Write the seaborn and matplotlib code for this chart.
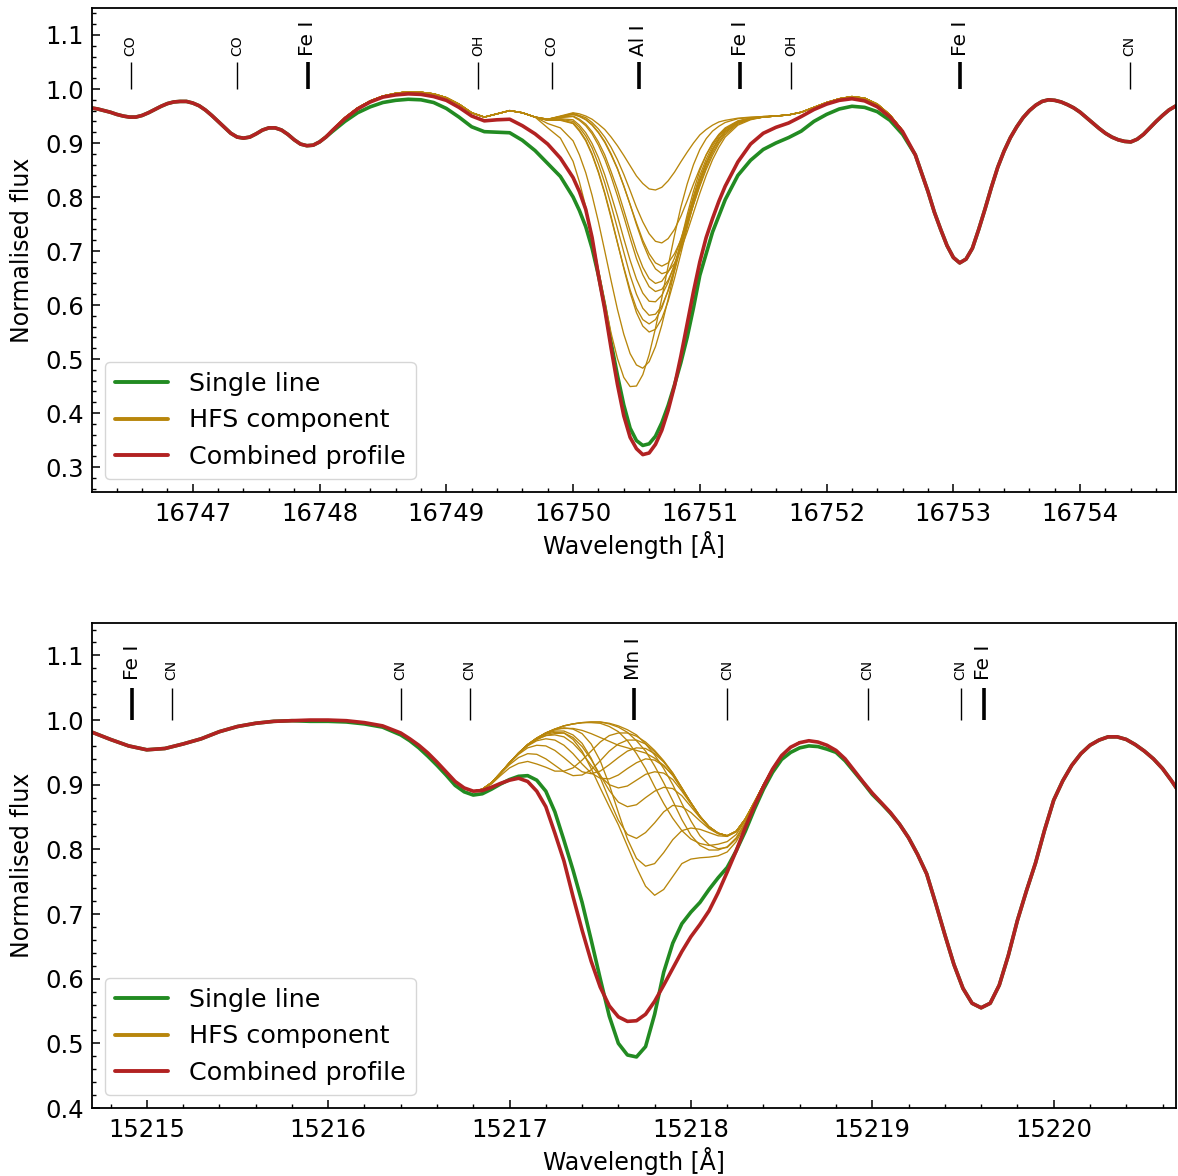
import matplotlib
matplotlib.use("Agg")
import matplotlib.pyplot as plt
from matplotlib.lines import Line2D
from matplotlib.ticker import MultipleLocator, FormatStrFormatter
import seaborn as sns

# ---------------- Al I 16750 region ----------------
top_wave = [16746.2, 16746.25, 16746.3, 16746.35, 16746.4, 16746.45, 16746.5, 16746.55, 16746.6, 16746.65,
            16746.7, 16746.75, 16746.8, 16746.85, 16746.9, 16746.95, 16747.0, 16747.05, 16747.1, 16747.15,
            16747.2, 16747.25, 16747.3, 16747.35, 16747.4, 16747.45, 16747.5, 16747.55, 16747.6, 16747.65,
            16747.7, 16747.75, 16747.8, 16747.85, 16747.9, 16747.95, 16748.0, 16748.05, 16748.1,
            16748.2, 16748.3, 16748.4, 16748.5, 16748.6, 16748.7, 16748.8, 16748.9, 16749.0, 16749.1,
            16749.2, 16749.3, 16749.4, 16749.5, 16749.6, 16749.7, 16749.8, 16749.9, 16750.0, 16750.05,
            16750.1, 16750.15, 16750.2, 16750.25, 16750.3, 16750.35, 16750.4, 16750.45, 16750.5, 16750.55,
            16750.6, 16750.65, 16750.7, 16750.75, 16750.8, 16750.85, 16750.9, 16750.95, 16751.0, 16751.05,
            16751.1, 16751.15, 16751.2, 16751.3, 16751.4, 16751.5, 16751.6, 16751.7, 16751.8, 16751.9,
            16752.0, 16752.1, 16752.2, 16752.3, 16752.4, 16752.5, 16752.6, 16752.7, 16752.8, 16752.85,
            16752.9, 16752.95, 16753.0, 16753.05, 16753.1, 16753.15, 16753.2, 16753.25, 16753.3, 16753.35,
            16753.4, 16753.45, 16753.5, 16753.55, 16753.6, 16753.65, 16753.7, 16753.75, 16753.8, 16753.85,
            16753.9, 16753.95, 16754.0, 16754.05, 16754.1, 16754.15, 16754.2, 16754.25, 16754.3, 16754.35,
            16754.4, 16754.45, 16754.5, 16754.55, 16754.6, 16754.65, 16754.7, 16754.75, 16754.8]

top_single = [0.965, 0.963, 0.960, 0.957, 0.953, 0.950, 0.948, 0.948, 0.951, 0.956,
              0.962, 0.968, 0.973, 0.976, 0.977, 0.977, 0.974, 0.969, 0.961, 0.951,
              0.940, 0.929, 0.918, 0.911, 0.909, 0.911, 0.917, 0.924, 0.928, 0.928,
              0.924, 0.916, 0.906, 0.898, 0.895, 0.896, 0.902, 0.911, 0.921,
              0.940, 0.956, 0.967, 0.975, 0.979, 0.981, 0.980, 0.975, 0.964, 0.948,
              0.930, 0.921, 0.920, 0.919, 0.905, 0.886, 0.862, 0.838, 0.800, 0.775,
              0.745, 0.705, 0.655, 0.598, 0.530, 0.470, 0.415, 0.372, 0.349, 0.340,
              0.343, 0.357, 0.382, 0.414, 0.452, 0.493, 0.540, 0.595, 0.655, 0.695,
              0.735, 0.765, 0.795, 0.840, 0.868, 0.888, 0.900, 0.910, 0.922, 0.940,
              0.953, 0.963, 0.968, 0.966, 0.958, 0.942, 0.916, 0.878, 0.810, 0.772,
              0.740, 0.710, 0.688, 0.678, 0.685, 0.705, 0.740, 0.778, 0.818, 0.855,
              0.885, 0.910, 0.930, 0.947, 0.960, 0.970, 0.977, 0.980, 0.979, 0.976,
              0.971, 0.965, 0.957, 0.947, 0.937, 0.927, 0.918, 0.911, 0.906, 0.903,
              0.902, 0.907, 0.916, 0.928, 0.940, 0.951, 0.961, 0.968, 0.973]

top_combined = [0.965, 0.963, 0.960, 0.957, 0.953, 0.950, 0.948, 0.948, 0.951, 0.956,
                0.962, 0.968, 0.973, 0.976, 0.977, 0.977, 0.974, 0.969, 0.961, 0.951,
                0.940, 0.929, 0.918, 0.911, 0.909, 0.911, 0.917, 0.924, 0.928, 0.928,
                0.924, 0.916, 0.906, 0.898, 0.895, 0.896, 0.902, 0.911, 0.923,
                0.945, 0.963, 0.976, 0.985, 0.989, 0.991, 0.990, 0.986, 0.979, 0.966,
                0.950, 0.941, 0.943, 0.944, 0.932, 0.917, 0.898, 0.872, 0.836, 0.810,
                0.777, 0.725, 0.655, 0.592, 0.520, 0.453, 0.395, 0.355, 0.334, 0.323,
                0.326, 0.342, 0.368, 0.405, 0.450, 0.505, 0.565, 0.625, 0.680, 0.725,
                0.760, 0.792, 0.820, 0.865, 0.898, 0.918, 0.929, 0.937, 0.949, 0.962,
                0.972, 0.979, 0.982, 0.978, 0.967, 0.948, 0.921, 0.878, 0.810, 0.772,
                0.740, 0.710, 0.688, 0.678, 0.685, 0.705, 0.740, 0.778, 0.818, 0.855,
                0.885, 0.910, 0.930, 0.947, 0.960, 0.970, 0.977, 0.980, 0.979, 0.976,
                0.971, 0.965, 0.957, 0.947, 0.937, 0.927, 0.918, 0.911, 0.906, 0.903,
                0.902, 0.907, 0.916, 0.928, 0.940, 0.951, 0.961, 0.968, 0.973]

top_hfs_wave = [16748.0, 16748.1, 16748.2, 16748.3, 16748.4, 16748.5, 16748.6, 16748.7, 16748.8, 16748.9,
                16749.0, 16749.1, 16749.2, 16749.3, 16749.4, 16749.5, 16749.6, 16749.7,
                16749.8, 16749.9, 16750.0, 16750.05, 16750.1, 16750.15, 16750.2, 16750.25, 16750.3, 16750.35,
                16750.4, 16750.45, 16750.5, 16750.55, 16750.6, 16750.65, 16750.7, 16750.75, 16750.8, 16750.85,
                16750.9, 16750.95, 16751.0, 16751.05, 16751.1, 16751.15, 16751.2, 16751.3, 16751.4, 16751.5,
                16751.6, 16751.7, 16751.8, 16751.9, 16752.0, 16752.1, 16752.2, 16752.3, 16752.4, 16752.5, 16752.6]
# blue and red sides shared by all Al I components
al_hfs_blue = [0.902, 0.924, 0.947, 0.965, 0.978, 0.987, 0.992, 0.995, 0.994, 0.991,
               0.984, 0.972, 0.956, 0.948, 0.954, 0.960, 0.956, 0.948]
al_hfs_red = [0.950, 0.952, 0.957, 0.966, 0.975, 0.982, 0.986, 0.983, 0.972, 0.952, 0.923]
# line cores, 16749.8 - 16751.5
al_hfs_01 = [0.944, 0.950, 0.956, 0.954, 0.950, 0.944, 0.935, 0.925, 0.911, 0.895, 0.877, 0.858, 0.839, 0.825, 0.815,
             0.813, 0.818, 0.830, 0.846, 0.865, 0.883, 0.900, 0.915, 0.925, 0.933, 0.939, 0.942, 0.946, 0.948, 0.949]
al_hfs_02 = [0.944, 0.949, 0.955, 0.951, 0.947, 0.938, 0.926, 0.911, 0.892, 0.869, 0.842, 0.812, 0.781, 0.754, 0.732,
             0.718, 0.715, 0.723, 0.740, 0.764, 0.793, 0.824, 0.853, 0.878, 0.898, 0.915, 0.926, 0.940, 0.946, 0.949]
al_hfs_03 = [0.944, 0.949, 0.953, 0.949, 0.943, 0.933, 0.919, 0.901, 0.878, 0.852, 0.820, 0.786, 0.752, 0.720, 0.695,
             0.678, 0.672, 0.678, 0.695, 0.720, 0.752, 0.786, 0.820, 0.851, 0.877, 0.899, 0.915, 0.935, 0.944, 0.948]
al_hfs_04 = [0.944, 0.949, 0.953, 0.950, 0.944, 0.934, 0.920, 0.903, 0.880, 0.853, 0.821, 0.786, 0.749, 0.715, 0.687,
             0.667, 0.658, 0.662, 0.677, 0.703, 0.735, 0.771, 0.807, 0.840, 0.869, 0.892, 0.911, 0.933, 0.943, 0.948]
al_hfs_05 = [0.944, 0.948, 0.950, 0.944, 0.935, 0.921, 0.902, 0.878, 0.847, 0.814, 0.776, 0.737, 0.700, 0.670, 0.649,
             0.640, 0.644, 0.661, 0.687, 0.722, 0.759, 0.798, 0.833, 0.864, 0.888, 0.908, 0.922, 0.938, 0.945, 0.948]
al_hfs_06 = [0.943, 0.947, 0.949, 0.942, 0.932, 0.917, 0.896, 0.870, 0.838, 0.802, 0.764, 0.724, 0.686, 0.656, 0.634,
             0.625, 0.629, 0.646, 0.673, 0.708, 0.747, 0.786, 0.823, 0.855, 0.882, 0.902, 0.918, 0.937, 0.945, 0.948]
al_hfs_07 = [0.943, 0.945, 0.943, 0.933, 0.919, 0.899, 0.873, 0.841, 0.804, 0.765, 0.723, 0.683, 0.648, 0.622, 0.607,
             0.606, 0.618, 0.642, 0.675, 0.714, 0.755, 0.795, 0.832, 0.862, 0.887, 0.907, 0.921, 0.938, 0.945, 0.948]
al_hfs_08 = [0.942, 0.944, 0.940, 0.929, 0.913, 0.891, 0.861, 0.826, 0.785, 0.742, 0.698, 0.655, 0.620, 0.594, 0.581,
             0.583, 0.598, 0.626, 0.663, 0.706, 0.750, 0.792, 0.830, 0.862, 0.888, 0.907, 0.921, 0.938, 0.945, 0.948]
al_hfs_09 = [0.942, 0.942, 0.936, 0.922, 0.904, 0.878, 0.845, 0.806, 0.761, 0.715, 0.670, 0.628, 0.594, 0.573, 0.565,
             0.573, 0.594, 0.628, 0.669, 0.714, 0.759, 0.802, 0.840, 0.870, 0.894, 0.912, 0.925, 0.940, 0.946, 0.948]
al_hfs_10 = [0.942, 0.943, 0.937, 0.924, 0.906, 0.880, 0.847, 0.808, 0.764, 0.716, 0.668, 0.623, 0.586, 0.561, 0.550,
             0.555, 0.575, 0.607, 0.649, 0.695, 0.743, 0.788, 0.828, 0.861, 0.888, 0.907, 0.922, 0.938, 0.945, 0.948]
al_hfs_11 = [0.936, 0.928, 0.904, 0.878, 0.845, 0.803, 0.754, 0.700, 0.645, 0.592, 0.546, 0.510, 0.489, 0.483, 0.495,
             0.523, 0.563, 0.611, 0.664, 0.718, 0.767, 0.811, 0.849, 0.878, 0.900, 0.916, 0.928, 0.941, 0.946, 0.948]
al_hfs_12 = [0.928, 0.909, 0.866, 0.828, 0.782, 0.727, 0.666, 0.606, 0.548, 0.501, 0.466, 0.449, 0.450, 0.471, 0.508,
             0.557, 0.613, 0.672, 0.729, 0.781, 0.824, 0.860, 0.888, 0.908, 0.922, 0.931, 0.938, 0.945, 0.947, 0.949]

top_line_waves = [16746.51, 16747.35, 16747.905, 16749.25, 16749.83, 16750.52, 16751.32, 16751.72, 16753.055, 16754.39]
top_line_labels = ["CO", "CO", "Fe I", "OH", "CO", "Al I", "Fe I", "OH", "Fe I", "CN"]

# ---------------- Mn I 15217 region ----------------
bottom_wave = [15214.7, 15214.8, 15214.9, 15215.0, 15215.1, 15215.2, 15215.3, 15215.4, 15215.5, 15215.6,
               15215.7, 15215.8, 15215.9, 15216.0, 15216.1, 15216.2, 15216.3, 15216.4, 15216.45, 15216.5,
               15216.55, 15216.6, 15216.65, 15216.7, 15216.75, 15216.8, 15216.85, 15216.9, 15216.95, 15217.0,
               15217.05, 15217.1, 15217.15, 15217.2, 15217.25, 15217.3, 15217.35, 15217.4, 15217.45, 15217.5,
               15217.55, 15217.6, 15217.65, 15217.7, 15217.75, 15217.8, 15217.85, 15217.9, 15217.95, 15218.0,
               15218.05, 15218.1, 15218.15, 15218.2, 15218.25, 15218.3, 15218.35, 15218.4, 15218.45, 15218.5,
               15218.55, 15218.6, 15218.65, 15218.7, 15218.75, 15218.8, 15218.85, 15218.9, 15218.95, 15219.0,
               15219.05, 15219.1, 15219.15, 15219.2, 15219.25, 15219.3, 15219.35, 15219.4, 15219.45, 15219.5,
               15219.55, 15219.6, 15219.65, 15219.7, 15219.75, 15219.8, 15219.85, 15219.9, 15219.95, 15220.0,
               15220.05, 15220.1, 15220.15, 15220.2, 15220.25, 15220.3, 15220.35, 15220.4, 15220.45, 15220.5,
               15220.55, 15220.6, 15220.65, 15220.7]

bottom_single = [0.981, 0.970, 0.960, 0.954, 0.956, 0.963, 0.971, 0.982, 0.990, 0.995,
                 0.998, 0.999, 0.998, 0.998, 0.997, 0.994, 0.989, 0.977, 0.968, 0.957,
                 0.944, 0.930, 0.915, 0.899, 0.889, 0.884, 0.886, 0.893, 0.901, 0.908,
                 0.913, 0.914, 0.907, 0.890, 0.858, 0.814, 0.768, 0.718, 0.660, 0.600,
                 0.542, 0.500, 0.482, 0.479, 0.495, 0.545, 0.610, 0.655, 0.685, 0.703,
                 0.718, 0.738, 0.756, 0.772, 0.798, 0.828, 0.862, 0.893, 0.919, 0.939,
                 0.950, 0.957, 0.960, 0.959, 0.955, 0.950, 0.937, 0.920, 0.903, 0.885,
                 0.871, 0.856, 0.839, 0.818, 0.792, 0.762, 0.716, 0.668, 0.622, 0.585,
                 0.562, 0.555, 0.562, 0.590, 0.636, 0.690, 0.736, 0.779, 0.830, 0.876,
                 0.906, 0.930, 0.948, 0.961, 0.969, 0.974, 0.974, 0.970, 0.962, 0.952,
                 0.940, 0.925, 0.906, 0.885]

bottom_combined = [0.981, 0.970, 0.960, 0.954, 0.956, 0.963, 0.971, 0.982, 0.990, 0.995,
                   0.998, 0.999, 1.000, 1.000, 0.999, 0.996, 0.991, 0.980, 0.971, 0.961,
                   0.949, 0.935, 0.920, 0.905, 0.895, 0.890, 0.891, 0.896, 0.902, 0.907,
                   0.910, 0.905, 0.890, 0.866, 0.825, 0.782, 0.727, 0.675, 0.627, 0.587,
                   0.558, 0.541, 0.534, 0.535, 0.545, 0.565, 0.590, 0.616, 0.642, 0.665,
                   0.684, 0.705, 0.733, 0.765, 0.798, 0.834, 0.867, 0.897, 0.924, 0.945,
                   0.958, 0.965, 0.968, 0.966, 0.961, 0.953, 0.940, 0.922, 0.904, 0.887,
                   0.872, 0.857, 0.839, 0.818, 0.792, 0.762, 0.716, 0.668, 0.622, 0.585,
                   0.562, 0.555, 0.562, 0.590, 0.636, 0.690, 0.736, 0.779, 0.830, 0.876,
                   0.906, 0.930, 0.948, 0.961, 0.969, 0.974, 0.974, 0.970, 0.962, 0.952,
                   0.940, 0.925, 0.906, 0.885]

bottom_hfs_wave = [15216.80, 15216.85, 15216.90, 15216.95, 15217.00, 15217.05, 15217.10, 15217.15, 15217.20, 15217.25,
                   15217.30, 15217.35, 15217.40, 15217.45, 15217.50, 15217.55, 15217.60, 15217.65, 15217.70, 15217.75,
                   15217.80, 15217.85, 15217.90, 15217.95, 15218.00, 15218.05, 15218.10, 15218.15, 15218.20, 15218.25,
                   15218.30, 15218.35, 15218.40, 15218.45, 15218.50, 15218.55, 15218.60]
mn_hfs_01 = [0.890, 0.893, 0.903, 0.918, 0.934, 0.949, 0.961, 0.970, 0.976, 0.979, 0.980, 0.970, 0.952, 0.925, 0.895, 0.866, 0.838, 0.805, 0.772, 0.743, 0.729, 0.738, 0.758, 0.778, 0.785, 0.787, 0.788, 0.790, 0.796, 0.812, 0.838, 0.868, 0.897, 0.923, 0.945, 0.958, 0.966]
mn_hfs_02 = [0.890, 0.893, 0.903, 0.918, 0.934, 0.949, 0.962, 0.972, 0.980, 0.985, 0.988, 0.986, 0.979, 0.963, 0.937, 0.900, 0.857, 0.816, 0.786, 0.774, 0.778, 0.795, 0.815, 0.829, 0.833, 0.831, 0.826, 0.821, 0.820, 0.827, 0.847, 0.872, 0.900, 0.925, 0.945, 0.958, 0.966]
mn_hfs_03 = [0.890, 0.893, 0.903, 0.918, 0.934, 0.949, 0.962, 0.972, 0.979, 0.983, 0.983, 0.977, 0.964, 0.941, 0.911, 0.877, 0.845, 0.823, 0.817, 0.826, 0.841, 0.858, 0.868, 0.866, 0.857, 0.844, 0.832, 0.824, 0.821, 0.828, 0.847, 0.873, 0.900, 0.925, 0.945, 0.958, 0.966]
mn_hfs_04 = [0.890, 0.893, 0.903, 0.918, 0.934, 0.949, 0.962, 0.971, 0.978, 0.981, 0.980, 0.973, 0.959, 0.939, 0.915, 0.891, 0.873, 0.866, 0.869, 0.880, 0.890, 0.896, 0.894, 0.883, 0.866, 0.849, 0.834, 0.825, 0.821, 0.828, 0.847, 0.873, 0.900, 0.925, 0.945, 0.958, 0.966]
mn_hfs_05 = [0.890, 0.893, 0.903, 0.918, 0.934, 0.949, 0.961, 0.970, 0.976, 0.977, 0.974, 0.964, 0.949, 0.930, 0.913, 0.900, 0.895, 0.898, 0.907, 0.916, 0.920, 0.918, 0.908, 0.890, 0.870, 0.851, 0.835, 0.825, 0.821, 0.828, 0.847, 0.873, 0.900, 0.925, 0.945, 0.958, 0.966]
mn_hfs_06 = [0.890, 0.893, 0.903, 0.918, 0.934, 0.948, 0.960, 0.968, 0.971, 0.969, 0.961, 0.948, 0.932, 0.918, 0.910, 0.909, 0.915, 0.925, 0.934, 0.940, 0.938, 0.929, 0.915, 0.894, 0.872, 0.851, 0.835, 0.825, 0.821, 0.828, 0.847, 0.873, 0.900, 0.925, 0.945, 0.958, 0.966]
mn_hfs_07 = [0.890, 0.893, 0.903, 0.918, 0.933, 0.947, 0.957, 0.961, 0.960, 0.953, 0.942, 0.930, 0.920, 0.917, 0.921, 0.931, 0.942, 0.952, 0.957, 0.956, 0.948, 0.935, 0.917, 0.895, 0.872, 0.851, 0.835, 0.825, 0.821, 0.828, 0.847, 0.873, 0.900, 0.925, 0.945, 0.958, 0.966]
mn_hfs_08 = [0.890, 0.893, 0.902, 0.917, 0.931, 0.942, 0.948, 0.947, 0.940, 0.930, 0.920, 0.914, 0.915, 0.923, 0.937, 0.952, 0.963, 0.969, 0.969, 0.963, 0.951, 0.936, 0.918, 0.895, 0.872, 0.851, 0.835, 0.825, 0.821, 0.828, 0.847, 0.873, 0.900, 0.925, 0.945, 0.958, 0.966]
mn_hfs_09 = [0.890, 0.892, 0.901, 0.914, 0.926, 0.933, 0.936, 0.932, 0.927, 0.921, 0.921, 0.926, 0.938, 0.952, 0.966, 0.976, 0.980, 0.980, 0.975, 0.966, 0.953, 0.937, 0.918, 0.895, 0.872, 0.851, 0.835, 0.825, 0.821, 0.828, 0.847, 0.873, 0.900, 0.925, 0.945, 0.958, 0.966]
mn_hfs_10 = [0.890, 0.893, 0.903, 0.918, 0.934, 0.949, 0.962, 0.972, 0.980, 0.986, 0.991, 0.994, 0.996, 0.996, 0.995, 0.990, 0.982, 0.968, 0.948, 0.925, 0.897, 0.871, 0.848, 0.829, 0.816, 0.809, 0.806, 0.808, 0.812, 0.823, 0.845, 0.872, 0.900, 0.925, 0.945, 0.958, 0.966]
mn_hfs_11 = [0.890, 0.893, 0.903, 0.918, 0.934, 0.949, 0.962, 0.972, 0.980, 0.986, 0.991, 0.994, 0.996, 0.997, 0.997, 0.994, 0.989, 0.981, 0.968, 0.952, 0.929, 0.903, 0.875, 0.846, 0.822, 0.806, 0.799, 0.799, 0.804, 0.818, 0.842, 0.871, 0.899, 0.925, 0.945, 0.958, 0.966]
mn_hfs_12 = [0.890, 0.893, 0.903, 0.918, 0.934, 0.949, 0.962, 0.972, 0.980, 0.986, 0.987, 0.987, 0.984, 0.979, 0.973, 0.967, 0.961, 0.957, 0.953, 0.949, 0.941, 0.930, 0.914, 0.893, 0.872, 0.851, 0.835, 0.825, 0.821, 0.828, 0.847, 0.873, 0.900, 0.925, 0.945, 0.958, 0.966]
mn_hfs_13 = [0.890, 0.893, 0.903, 0.918, 0.934, 0.949, 0.962, 0.972, 0.980, 0.986, 0.991, 0.994, 0.996, 0.997, 0.997, 0.995, 0.991, 0.985, 0.977, 0.963, 0.946, 0.925, 0.900, 0.871, 0.844, 0.821, 0.807, 0.801, 0.803, 0.816, 0.840, 0.869, 0.898, 0.925, 0.945, 0.958, 0.966]

bottom_line_waves = [15214.92, 15215.137, 15216.40, 15216.78, 15217.684, 15218.20, 15218.974, 15219.487, 15219.614]
bottom_line_labels = ["Fe I", "CN", "CN", "CN", "Mn I", "CN", "CN", "CN", "Fe I"]

legend_labels = ["Single line", "HFS component", "Combined profile"]

GREEN = "forestgreen"
GOLD = "darkgoldenrod"
RED = "firebrick"

sns.set_style("ticks")
plt.rcParams.update({
    "font.family": ["DejaVu Sans"],
    "text.color": "black",
    "axes.labelcolor": "black",
    "axes.linewidth": 1.3,
    "axes.edgecolor": "black",
    "xtick.direction": "in",
    "ytick.direction": "in",
    "xtick.major.size": 5.5,
    "ytick.major.size": 5.5,
    "xtick.minor.size": 3.0,
    "ytick.minor.size": 3.0,
    "xtick.major.width": 1.1,
    "ytick.major.width": 1.1,
    "xtick.minor.width": 1.0,
    "ytick.minor.width": 1.0,
    "xtick.color": "black",
    "ytick.color": "black",
    "xtick.labelcolor": "black",
    "ytick.labelcolor": "black",
})

top_hfs = [al_hfs_blue + core + al_hfs_red for core in
           (al_hfs_01, al_hfs_02, al_hfs_03, al_hfs_04, al_hfs_05, al_hfs_06,
            al_hfs_07, al_hfs_08, al_hfs_09, al_hfs_10, al_hfs_11, al_hfs_12)]
bottom_hfs = [mn_hfs_01, mn_hfs_02, mn_hfs_03, mn_hfs_04, mn_hfs_05, mn_hfs_06, mn_hfs_07,
              mn_hfs_08, mn_hfs_09, mn_hfs_10, mn_hfs_11, mn_hfs_12, mn_hfs_13]


def mark_lines(ax, waves, labels):
    for w, lab in zip(waves, labels):
        atomic = lab.endswith(" I")
        ax.vlines(w, 1.0, 1.05, color="black", lw=2.6 if atomic else 1.0, zorder=5)
        ax.text(w, 1.062, lab, rotation=90, ha="center", va="bottom",
                fontsize=14.5 if atomic else 10, color="black")


def draw_panel(ax, wave, single, combined, hfs_wave, hfs_curves, waves, labels, xlim, ylim):
    sns.lineplot(x=wave, y=single, color=GREEN, lw=2.6, ax=ax, sort=False, estimator=None)
    for curve in hfs_curves:
        sns.lineplot(x=hfs_wave, y=curve, color=GOLD, lw=0.95, ax=ax, sort=False, estimator=None)
    sns.lineplot(x=wave, y=combined, color=RED, lw=2.6, ax=ax, sort=False, estimator=None)
    mark_lines(ax, waves, labels)

    ax.set_xlim(*xlim)
    ax.set_ylim(*ylim)
    ax.xaxis.set_major_locator(MultipleLocator(1))
    ax.xaxis.set_minor_locator(MultipleLocator(0.2))
    ax.yaxis.set_major_locator(MultipleLocator(0.1))
    ax.yaxis.set_minor_locator(MultipleLocator(0.02))
    ax.xaxis.set_major_formatter(FormatStrFormatter("%d"))
    ax.yaxis.set_major_formatter(FormatStrFormatter("%.1f"))
    ax.tick_params(which="both", direction="in", top=False, right=False)
    ax.tick_params(axis="both", which="major", labelsize=17.5, labelcolor="black")
    ax.tick_params(axis="y", which="major", pad=6)
    ax.tick_params(axis="x", which="major", pad=7)
    ax.set_xlabel("Wavelength [Å]", fontsize=17, labelpad=4, color="black")
    ax.set_ylabel("Normalised flux", fontsize=17, labelpad=8, color="black")
    for side in ("top", "right", "left", "bottom"):
        ax.spines[side].set_visible(True)

    handles = [Line2D([], [], color=GREEN, lw=2.8),
               Line2D([], [], color=GOLD, lw=2.8),
               Line2D([], [], color=RED, lw=2.8)]
    leg = ax.legend(handles, legend_labels, loc="lower left", fontsize=18.3, handlelength=2.1,
                    frameon=True, framealpha=0.8, edgecolor="0.8", fancybox=True)
    for t in leg.get_texts():
        t.set_color("black")


fig = plt.figure(figsize=(11.78, 11.76), dpi=100)
ax_top = fig.add_axes([0.0781, 0.5816, 0.9206, 0.4116])
ax_bot = fig.add_axes([0.0781, 0.0578, 0.9206, 0.4124])

draw_panel(ax_top, top_wave, top_single, top_combined, top_hfs_wave, top_hfs,
           top_line_waves, top_line_labels, (16746.205, 16754.76), (0.2537, 1.15))
draw_panel(ax_bot, bottom_wave, bottom_single, bottom_combined, bottom_hfs_wave, bottom_hfs,
           bottom_line_waves, bottom_line_labels, (15214.698, 15220.677), (0.4, 1.15))

fig.savefig("out.png", dpi=100)
